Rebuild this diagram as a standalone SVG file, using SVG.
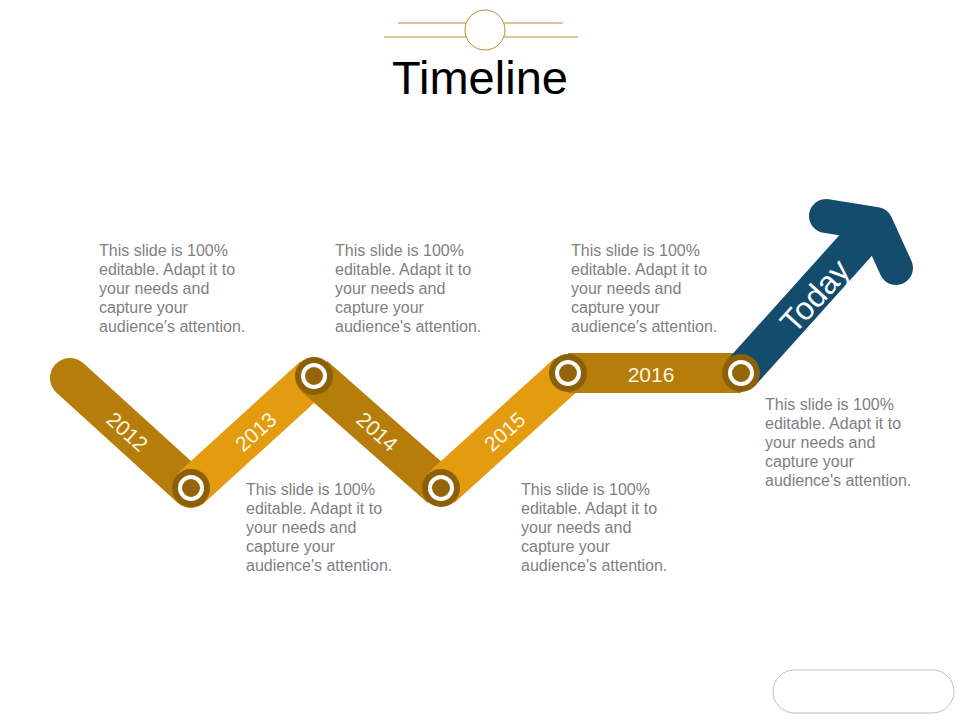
<svg xmlns="http://www.w3.org/2000/svg" width="960" height="720" viewBox="0 0 960 720">
<style>
.dark{stroke:#B67D0A;stroke-width:40;fill:none}
.light{stroke:#E39B10;stroke-width:40;fill:none}
.yr{font-family:"Liberation Sans",Arial,sans-serif;font-size:21px;fill:#FFF6E0;text-anchor:middle}
.body{font-family:"Liberation Sans",Arial,sans-serif;font-size:16px;fill:#7F7F7F}
.ring{fill:#8C5F09}
.ringw{fill:#94650B;stroke:#FFFFFF;stroke-width:4}
.deco{stroke:#B8902E;stroke-width:1;fill:none}
</style>
<rect width="960" height="720" fill="#FFFFFF"/>
<g id="title">
<line class="deco" x1="398" y1="23" x2="563" y2="23"/>
<line class="deco" x1="384" y1="37" x2="578" y2="37"/>
<circle cx="485" cy="30" r="20" fill="#FFFFFF" stroke="#B8902E" stroke-width="1"/>
<text x="480" y="94" font-family="Liberation Sans,Arial,sans-serif" font-size="47" fill="#000000" text-anchor="middle">Timeline</text>
</g>
<g id="connectors">
<line class="dark" x1="70" y1="378" x2="191" y2="488" stroke-linecap="round"/>
<line class="light" x1="191" y1="488" x2="314" y2="376"/>
<line class="dark" x1="314" y1="376" x2="441" y2="488"/>
<line class="light" x1="441" y1="488" x2="568" y2="373"/>
<line class="dark" x1="568" y1="373" x2="741" y2="373"/>
<line x1="741" y1="373" x2="866" y2="234" stroke="#134C6C" stroke-width="38"/>
<polyline points="826,216 876,224 896,268" fill="none" stroke="#134C6C" stroke-width="34" stroke-linecap="round" stroke-linejoin="round"/>
</g>
<g id="node-2012">
<circle class="ring" cx="191" cy="488" r="19"/>
<circle class="ringw" cx="191" cy="488" r="11"/>
<text class="yr" transform="translate(127,432) rotate(42)" dy="7">2012</text>
</g>
<g id="node-2013">
<circle class="ring" cx="314" cy="376" r="19"/>
<circle class="ringw" cx="314" cy="376" r="11"/>
<text class="yr" transform="translate(256,432) rotate(-42)" dy="7">2013</text>
</g>
<g id="node-2014">
<circle class="ring" cx="441" cy="488" r="19"/>
<circle class="ringw" cx="441" cy="488" r="11"/>
<text class="yr" transform="translate(377,432) rotate(42)" dy="7">2014</text>
</g>
<g id="node-2015">
<circle class="ring" cx="568" cy="373" r="19"/>
<circle class="ringw" cx="568" cy="373" r="11"/>
<text class="yr" transform="translate(505,432) rotate(-42)" dy="7">2015</text>
</g>
<g id="node-2016">
<circle class="ring" cx="741" cy="373" r="19"/>
<circle class="ringw" cx="741" cy="373" r="11"/>
<text class="yr" x="651" y="382">2016</text>
</g>
<g id="node-today">
<text transform="translate(815,296) rotate(-48)" dy="11" font-family="Liberation Sans,Arial,sans-serif" font-size="32" fill="#FFFFFF" text-anchor="middle">Today</text>
</g>
<g id="text-1">
<text class="body" x="99" y="256">This slide is 100%</text>
<text class="body" x="99" y="275">editable. Adapt it to</text>
<text class="body" x="99" y="294">your needs and</text>
<text class="body" x="99" y="313">capture your</text>
<text class="body" x="99" y="332">audience's attention.</text>
</g>
<g id="text-2">
<text class="body" x="335" y="256">This slide is 100%</text>
<text class="body" x="335" y="275">editable. Adapt it to</text>
<text class="body" x="335" y="294">your needs and</text>
<text class="body" x="335" y="313">capture your</text>
<text class="body" x="335" y="332">audience's attention.</text>
</g>
<g id="text-3">
<text class="body" x="571" y="256">This slide is 100%</text>
<text class="body" x="571" y="275">editable. Adapt it to</text>
<text class="body" x="571" y="294">your needs and</text>
<text class="body" x="571" y="313">capture your</text>
<text class="body" x="571" y="332">audience's attention.</text>
</g>
<g id="text-4">
<text class="body" x="246" y="495">This slide is 100%</text>
<text class="body" x="246" y="514">editable. Adapt it to</text>
<text class="body" x="246" y="533">your needs and</text>
<text class="body" x="246" y="552">capture your</text>
<text class="body" x="246" y="571">audience's attention.</text>
</g>
<g id="text-5">
<text class="body" x="521" y="495">This slide is 100%</text>
<text class="body" x="521" y="514">editable. Adapt it to</text>
<text class="body" x="521" y="533">your needs and</text>
<text class="body" x="521" y="552">capture your</text>
<text class="body" x="521" y="571">audience's attention.</text>
</g>
<g id="text-6">
<text class="body" x="765" y="410">This slide is 100%</text>
<text class="body" x="765" y="429">editable. Adapt it to</text>
<text class="body" x="765" y="448">your needs and</text>
<text class="body" x="765" y="467">capture your</text>
<text class="body" x="765" y="486">audience's attention.</text>
</g>
<g id="button">
<rect x="773" y="670" width="181" height="43" rx="21.5" fill="#FFFFFF" stroke="#BFBFBF" stroke-width="1"/>
</g>
</svg>
